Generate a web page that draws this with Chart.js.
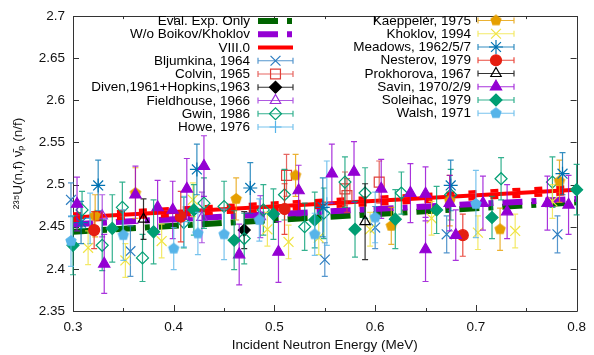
<!DOCTYPE html>
<html>
<head>
<meta charset="utf-8">
<script src="https://cdn.jsdelivr.net/npm/chart.js@4.4.0/dist/chart.umd.min.js"></script>
<style>
  html, body { margin: 0; padding: 0; background: #fff; }
  #wrap { width: 594px; height: 355px; position: relative; }
</style>
</head>
<body>
<div id="wrap"><canvas id="nubarChart"></canvas></div>
<script>
// axis ticks
const xTicks = [0.3, 0.4, 0.5, 0.6, 0.7, 0.8];
const xMinorTicks = [0.35, 0.45, 0.55, 0.65, 0.75];
const yTicks = [2.35, 2.4, 2.45, 2.5, 2.55, 2.6, 2.65, 2.7];

// evaluated curves
const evalEnergy = [0.3, 0.8];
const evalExpOnly = [2.444, 2.479];
const woBoikovKhoklov = [2.453, 2.483];
const viii0 = [2.461, 2.494];
const viii0Unc = [0.004, 0.004];

// experimental data: [E (MeV), nu-bar, uncertainty]
const bljumkina = [[0.298, 2.482, 0.02], [0.357, 2.421, 0.03], [0.55, 2.411, 0.02], [0.6, 2.449, 0.025], [0.671, 2.441, 0.022], [0.781, 2.441, 0.022]];
const colvin = [[0.512, 2.511, 0.025], [0.57, 2.495, 0.02], [0.572, 2.487, 0.02], [0.604, 2.503, 0.025]];
const diven = [[0.47, 2.446, 0.022]];
const fieldhouse = [[0.329, 2.463, 0.025], [0.428, 2.461, 0.03], [0.486, 2.462, 0.025]];
const gwin = [[0.309, 2.47, 0.022], [0.329, 2.428, 0.03], [0.349, 2.473, 0.03], [0.369, 2.413, 0.028], [0.41, 2.455, 0.03],
  [0.43, 2.478, 0.03], [0.45, 2.474, 0.03], [0.47, 2.436, 0.03], [0.489, 2.47, 0.03], [0.51, 2.488, 0.03], [0.53, 2.45, 0.028],
  [0.549, 2.466, 0.03], [0.57, 2.503, 0.03], [0.59, 2.49, 0.03], [0.626, 2.49, 0.025], [0.675, 2.488, 0.03], [0.725, 2.507, 0.025], [0.776, 2.503, 0.03]];
const howe = [[0.317, 2.46, 0.03], [0.41, 2.456, 0.03], [0.552, 2.478, 0.05]];
const kaeppeler = [[0.322, 2.463, 0.025], [0.362, 2.49, 0.03], [0.462, 2.483, 0.025], [0.521, 2.511, 0.025], [0.616, 2.451, 0.022],
  [0.674, 2.481, 0.03], [0.724, 2.447, 0.025], [0.783, 2.504, 0.025]];
const khoklov = [[0.315, 2.425, 0.02], [0.352, 2.41, 0.02], [0.388, 2.433, 0.02], [0.419, 2.482, 0.02], [0.493, 2.447, 0.02],
  [0.514, 2.432, 0.02], [0.544, 2.437, 0.02], [0.595, 2.447, 0.02], [0.656, 2.46, 0.02], [0.702, 2.443, 0.02], [0.739, 2.445, 0.02], [0.776, 2.48, 0.02]];
const meadows = [[0.308, 2.455, 0.025], [0.325, 2.499, 0.03], [0.423, 2.518, 0.03], [0.476, 2.496, 0.03], [0.548, 2.473, 0.035], [0.675, 2.499, 0.03], [0.786, 2.513, 0.025]];
const nesterov = [[0.321, 2.446, 0.022], [0.407, 2.462, 0.03], [0.51, 2.471, 0.03], [0.687, 2.44, 0.025]];
const prokhorova = [[0.37, 2.459, 0.024], [0.59, 2.456, 0.045]];
const savin = [[0.304, 2.477, 0.032], [0.331, 2.406, 0.035], [0.362, 2.488, 0.034], [0.384, 2.473, 0.032], [0.399, 2.47, 0.034],
  [0.413, 2.495, 0.036], [0.43, 2.522, 0.036], [0.465, 2.417, 0.036], [0.504, 2.42, 0.036], [0.524, 2.493, 0.03], [0.557, 2.513, 0.035],
  [0.579, 2.515, 0.036], [0.606, 2.495, 0.035], [0.635, 2.49, 0.035], [0.65, 2.489, 0.032], [0.65, 2.423, 0.038], [0.674, 2.478, 0.033],
  [0.68, 2.44, 0.03], [0.707, 2.478, 0.032], [0.731, 2.468, 0.032], [0.771, 2.478, 0.032], [0.792, 2.476, 0.035]];
const soleihac = [[0.3, 2.428, 0.035], [0.339, 2.448, 0.04], [0.38, 2.444, 0.038], [0.42, 2.47, 0.03], [0.46, 2.434, 0.035],
  [0.499, 2.465, 0.03], [0.54, 2.458, 0.033], [0.58, 2.447, 0.033], [0.62, 2.459, 0.035], [0.661, 2.47, 0.028], [0.716, 2.461, 0.025], [0.8, 2.494, 0.03]];
const walsh = [[0.298, 2.433, 0.03], [0.35, 2.44, 0.03], [0.4, 2.424, 0.025], [0.424, 2.442, 0.025], [0.45, 2.441, 0.03],
  [0.485, 2.458, 0.025], [0.54, 2.441, 0.025], [0.6, 2.461, 0.03], [0.7, 2.477, 0.04]];

const FONT = '"Liberation Sans", Arial, Helvetica, sans-serif';
const FSIZE = 13.5;

function pentagon(color, r) {
    const c = document.createElement('canvas');
    const s = Math.ceil(2 * r + 2);
    c.width = s; c.height = s;
    const g = c.getContext('2d');
    g.beginPath();
    for (let i = 0; i < 5; i++) {
        const a = -Math.PI / 2 + i * 2 * Math.PI / 5;
        const px = s / 2 + r * Math.cos(a), py = s / 2 + r * Math.sin(a);
        if (i) g.lineTo(px, py); else g.moveTo(px, py);
    }
    g.closePath();
    g.fillStyle = color;
    g.fill();
    return c;
}

const curves = [
    { label: 'Eval. Exp. Only', vals: evalExpOnly, color: '#006400', width: 6, dash: [20, 9, 5, 9] },
    { label: 'W/o Boikov/Khoklov', vals: woBoikovKhoklov, color: '#9400d3', width: 6, dash: [20, 9, 5, 9] },
    { label: 'VIII.0', vals: viii0, color: '#ff0000', width: 4, dash: [] }
];

const series = [
    { label: 'Bljumkina, 1964', pts: bljumkina, color: '#2b7cc0', style: 'crossRot', r: 7, fill: false },
    { label: 'Colvin, 1965', pts: colvin, color: '#e0403a', style: 'rect', r: 7, fill: false },
    { label: 'Diven,1961+Hopkins,1963', pts: diven, color: '#000000', style: 'rectRot', r: 6, fill: true },
    { label: 'Fieldhouse, 1966', pts: fieldhouse, color: '#9b30d9', style: 'triangle', r: 6, fill: false },
    { label: 'Gwin, 1986', pts: gwin, color: '#009e73', style: 'rectRot', r: 6, fill: false },
    { label: 'Howe, 1976', pts: howe, color: '#56b4e9', style: 'cross', r: 6, fill: false },
    { label: 'Kaeppeler, 1975', pts: kaeppeler, color: '#e69f00', style: 'pentagon', r: 6, fill: true },
    { label: 'Khoklov, 1994', pts: khoklov, color: '#f0e442', style: 'crossRot', r: 7, fill: false },
    { label: 'Meadows, 1962/5/7', pts: meadows, color: '#0072b2', style: 'star', r: 7, fill: false },
    { label: 'Nesterov, 1979', pts: nesterov, color: '#e51e10', style: 'circle', r: 5.5, fill: true },
    { label: 'Prokhorova, 1967', pts: prokhorova, color: '#000000', style: 'triangle', r: 6, fill: false },
    { label: 'Savin, 1970/2/9', pts: savin, color: '#9400d3', style: 'triangle', r: 6.5, fill: true },
    { label: 'Soleihac, 1979', pts: soleihac, color: '#009e73', style: 'rectRot', r: 6, fill: true },
    { label: 'Walsh, 1971', pts: walsh, color: '#56b4e9', style: 'pentagon', r: 6, fill: true }
];
series.forEach(s => {
    s.pointStyle = s.style === 'pentagon' ? pentagon(s.color, s.r) : s.style;
});

const datasets = [];
series.forEach((s, i) => {
    datasets.push({
        type: 'scatter',
        label: s.label,
        data: s.pts.map(p => ({ x: p[0], y: p[1] })),
        errs: s.pts.map(p => p[2]),
        barColor: s.color,
        pointStyle: s.pointStyle,
        pointRadius: s.r,
        pointBackgroundColor: s.fill ? s.color : 'rgba(0,0,0,0)',
        pointBorderColor: s.color,
        pointBorderWidth: 1.2,
        clip: false,
        order: series.length - i
    });
});
curves.forEach((c, i) => {
    datasets.push({
        type: 'line',
        label: c.label,
        data: evalEnergy.map((e, k) => ({ x: e, y: c.vals[k] })),
        borderColor: c.color,
        borderWidth: c.width,
        borderDash: c.dash,
        pointRadius: 0,
        fill: false,
        order: 40 - i
    });
});
// VIII.0 uncertainty band
[1, -1].forEach(sign => {
    datasets.push({
        type: 'line',
        label: 'VIII.0 unc',
        data: evalEnergy.map((e, k) => ({ x: e, y: viii0[k] + sign * viii0Unc[k] })),
        borderColor: '#ff0000',
        borderWidth: 3.5,
        borderDash: [8, 14],
        pointRadius: 0,
        fill: false,
        order: 35
    });
});

const errorBars = {
    id: 'errorBars',
    beforeDatasetDraw(chart, args) {
        const ds = chart.data.datasets[args.index];
        if (!ds.errs) return;
        const { ctx, scales: { x, y } } = chart;
        ctx.save();
        ctx.strokeStyle = ds.barColor;
        ctx.globalAlpha = 0.8;
        ctx.lineWidth = 1.2;
        ctx.beginPath();
        ds.data.forEach((p, i) => {
            const px = x.getPixelForValue(p.x);
            const y0 = y.getPixelForValue(p.y - ds.errs[i]);
            const y1 = y.getPixelForValue(p.y + ds.errs[i]);
            ctx.moveTo(px, y0); ctx.lineTo(px, y1);
            ctx.moveTo(px - 3, y0); ctx.lineTo(px + 3, y0);
            ctx.moveTo(px - 3, y1); ctx.lineTo(px + 3, y1);
        });
        ctx.stroke();
        ctx.restore();
    }
};

const frame = {
    id: 'frame',
    beforeDatasetsDraw(chart) {
        const { ctx, chartArea: a, scales: { x, y } } = chart;
        ctx.save();
        ctx.strokeStyle = '#333';
        ctx.lineWidth = 1;
        ctx.beginPath();
        ctx.rect(Math.round(a.left) + 0.5, Math.round(a.top) + 0.5, Math.round(a.right - a.left), Math.round(a.bottom - a.top));
        xTicks.concat(xMinorTicks).forEach(v => {
            const len = xTicks.includes(v) ? 6 : 3;
            const p = Math.round(x.getPixelForValue(v)) + 0.5;
            ctx.moveTo(p, a.bottom); ctx.lineTo(p, a.bottom - len);
            ctx.moveTo(p, a.top); ctx.lineTo(p, a.top + len);
        });
        yTicks.forEach(v => {
            const p = Math.round(y.getPixelForValue(v)) + 0.5;
            ctx.moveTo(a.left, p); ctx.lineTo(a.left + 6, p);
            ctx.moveTo(a.right, p); ctx.lineTo(a.right - 6, p);
        });
        ctx.stroke();
        ctx.restore();
    }
};

function legendMarker(ctx, s, x, y) {
    ctx.save();
    ctx.strokeStyle = s.color;
    ctx.fillStyle = s.fill ? s.color : 'rgba(0,0,0,0)';
    ctx.lineWidth = 1.2;
    Chart.helpers.drawPoint(ctx, { pointStyle: s.pointStyle, radius: s.r, borderWidth: 1.2, rotation: 0 }, x, y);
    ctx.restore();
}

const customLegend = {
    id: 'customLegend',
    afterDraw(chart) {
        const ctx = chart.ctx;
        const rowH = 13.25;
        const cols = [
            { right: 250, x0: 258, x1: 293, top: 21, items: curves.concat(series.slice(0, 6)) },
            { right: 471, x0: 478, x1: 514, top: 20.5, items: series.slice(6) }
        ];
        ctx.save();
        ctx.font = FSIZE + 'px ' + FONT;
        ctx.textAlign = 'right';
        ctx.textBaseline = 'middle';
        cols.forEach(col => {
            col.items.forEach((it, i) => {
                const yy = col.top + i * rowH;
                ctx.fillStyle = '#000';
                ctx.fillText(it.label, col.right, yy + 0.5);
                if (it.vals) {
                    ctx.save();
                    ctx.strokeStyle = it.color;
                    ctx.lineWidth = it.width;
                    ctx.setLineDash(it.dash);
                    ctx.beginPath();
                    ctx.moveTo(col.x0, yy); ctx.lineTo(col.x1, yy);
                    ctx.stroke();
                    ctx.restore();
                } else {
                    ctx.save();
                    ctx.strokeStyle = it.color;
                    ctx.globalAlpha = 0.8;
                    ctx.lineWidth = 1.2;
                    ctx.beginPath();
                    ctx.moveTo(col.x0, yy); ctx.lineTo(col.x1, yy);
                    ctx.moveTo(col.x0, yy - 3); ctx.lineTo(col.x0, yy + 3);
                    ctx.moveTo(col.x1, yy - 3); ctx.lineTo(col.x1, yy + 3);
                    ctx.stroke();
                    ctx.restore();
                    legendMarker(ctx, it, (col.x0 + col.x1) / 2, yy);
                }
            });
        });
        ctx.restore();
    }
};

const ctx = document.getElementById('nubarChart').getContext('2d');
const nubarChart = new Chart(ctx, {
    type: 'scatter',
    data: { datasets: datasets },
    options: {
        responsive: true,
        maintainAspectRatio: false,
        animation: false,
        layout: { padding: { left: 0, right: 14, top: 8, bottom: 0 } },
        plugins: {
            legend: { display: false },
            tooltip: { enabled: false }
        },
        scales: {
            x: {
                type: 'linear',
                min: 0.3,
                max: 0.8,
                afterBuildTicks: s => { s.ticks = xTicks.map(v => ({ value: v })); },
                afterFit: s => { s.height = 44; },
                grid: { display: false, drawTicks: false },
                border: { display: false },
                ticks: {
                    padding: 8,
                    color: '#111',
                    font: { family: FONT, size: FSIZE },
                    callback: v => Number(v).toFixed(1)
                },
                title: {
                    display: true,
                    text: 'Incident Neutron Energy (MeV)',
                    color: '#111',
                    font: { family: FONT, size: FSIZE },
                    padding: { top: 0, bottom: 2 }
                }
            },
            y: {
                type: 'linear',
                min: 2.35,
                max: 2.7,
                afterBuildTicks: s => { s.ticks = yTicks.map(v => ({ value: v })); },
                afterFit: s => { s.width = 73; },
                grid: { display: false, drawTicks: false },
                border: { display: false },
                ticks: {
                    padding: 8,
                    color: '#111',
                    font: { family: FONT, size: FSIZE },
                    callback: v => String(Number(Number(v).toFixed(2)))
                },
                title: {
                    display: true,
                    text: '²³⁵U(n,f) ν̄ₚ (n/f)',
                    color: '#111',
                    font: { family: FONT, size: FSIZE },
                    padding: { top: 10, bottom: 0 }
                }
            }
        }
    },
    plugins: [frame, errorBars, customLegend]
});
</script>
</body>
</html>
